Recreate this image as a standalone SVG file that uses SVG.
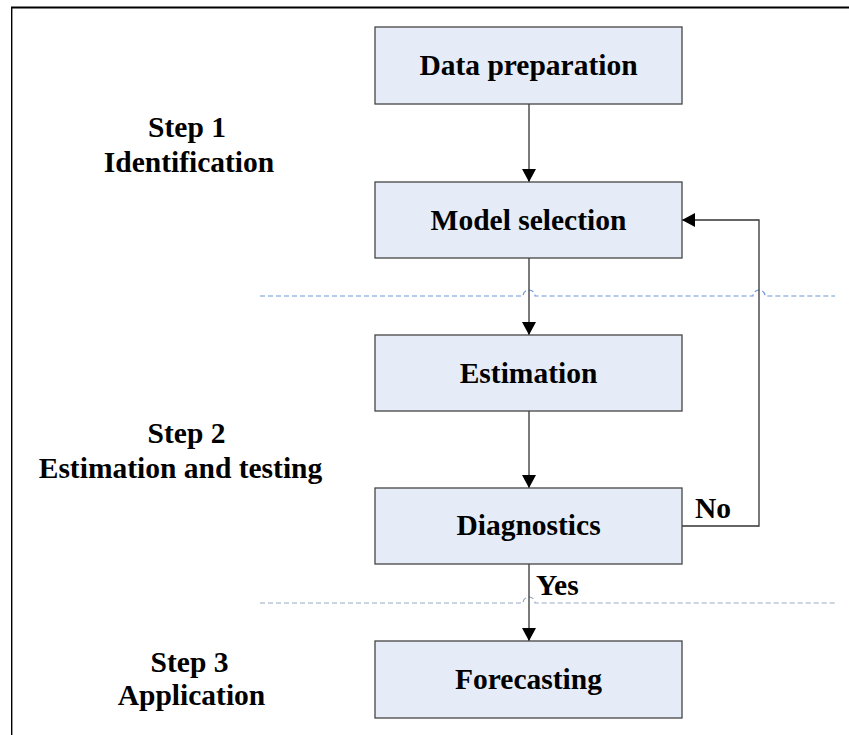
<svg xmlns="http://www.w3.org/2000/svg" width="849" height="735" viewBox="0 0 849 735">
  <style>
    .box { fill: #e5ecf7; stroke: #454545; stroke-width: 1.3; }
    .label { font-family: "Liberation Serif", "Times New Roman", serif; font-weight: bold; font-size: 29.5px; fill: #000; }
    .mid { text-anchor: middle; }
    .edge { fill: none; stroke: #333; stroke-width: 1.3; }
    .sep1 { fill: none; stroke: #6f98d8; stroke-width: 1.2; stroke-dasharray: 5 3; }
    .sep2 { fill: none; stroke: #98a9c2; stroke-width: 1.2; stroke-dasharray: 5 3; }
  </style>
  <defs>
    <marker id="arrow" viewBox="0 0 13 14" refX="13" refY="7" markerWidth="13" markerHeight="14" markerUnits="userSpaceOnUse" orient="auto">
      <path d="M0,0 L13,7 L0,14 z" fill="#000"/>
    </marker>
  </defs>

  <rect width="849" height="735" fill="#fff"/>

  <!-- outer frame -->
  <g id="frame">
    <line x1="11" y1="7.5" x2="849" y2="7.5" stroke="#000" stroke-width="2"/>
    <line x1="11.7" y1="7" x2="11.7" y2="735" stroke="#000" stroke-width="1.4"/>
  </g>

  <!-- stage separators, with hops where connectors cross -->
  <g id="separators">
    <path class="sep1" d="M260,296 H523 A6,6 0 0 1 535,296 H753 A6,6 0 0 1 765,296 H835"/>
    <path class="sep2" d="M260,603 H523 A6,6 0 0 1 535,603 H835"/>
  </g>

  <!-- step labels -->
  <g id="step1">
    <text class="label mid" x="187" y="136.5">Step 1</text>
    <text class="label mid" x="189" y="171.5">Identification</text>
  </g>
  <g id="step2">
    <text class="label mid" x="186.5" y="443">Step 2</text>
    <text class="label mid" x="180.5" y="478">Estimation and testing</text>
  </g>
  <g id="step3">
    <text class="label mid" x="189.5" y="672">Step 3</text>
    <text class="label mid" x="191.5" y="705">Application</text>
  </g>

  <!-- connectors -->
  <g id="connectors">
    <path class="edge" d="M529,104 V182" marker-end="url(#arrow)"/>
    <path class="edge" d="M529,258 V335" marker-end="url(#arrow)"/>
    <path class="edge" d="M529,411 V488" marker-end="url(#arrow)"/>
    <path class="edge" d="M529,564 V641" marker-end="url(#arrow)"/>
    <path class="edge" d="M682,526 H759 V220 H682" marker-end="url(#arrow)"/>
    <text class="label" x="695" y="518">No</text>
    <text class="label" x="536" y="595">Yes</text>
  </g>

  <!-- process nodes -->
  <g id="data-preparation">
    <rect class="box" x="375" y="27" width="307" height="77"/>
    <text class="label mid" x="528.5" y="75">Data preparation</text>
  </g>
  <g id="model-selection">
    <rect class="box" x="375" y="182" width="307" height="76"/>
    <text class="label mid" x="528.5" y="229.5">Model selection</text>
  </g>
  <g id="estimation">
    <rect class="box" x="375" y="335" width="307" height="76"/>
    <text class="label mid" x="528.5" y="382.5">Estimation</text>
  </g>
  <g id="diagnostics">
    <rect class="box" x="375" y="488" width="307" height="76"/>
    <text class="label mid" x="528.5" y="535">Diagnostics</text>
  </g>
  <g id="forecasting">
    <rect class="box" x="375" y="641" width="307" height="77"/>
    <text class="label mid" x="528.5" y="689">Forecasting</text>
  </g>
</svg>
